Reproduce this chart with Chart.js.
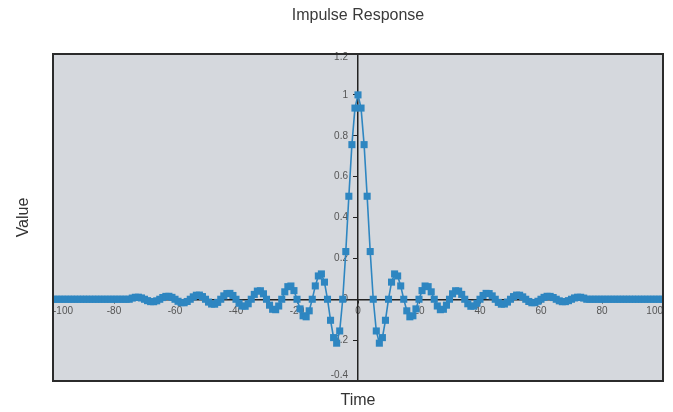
<!DOCTYPE html>
<html><head><meta charset="utf-8">
<script src="https://cdn.jsdelivr.net/npm/chart.js@4/dist/chart.umd.min.js"></script>
<style>html,body{margin:0;padding:0;background:#fff}#wrap{width:673px;height:412px;position:relative}</style>
</head><body><div id="wrap"><canvas id="c" width="673" height="412"></canvas></div>
<script>
const chartTitle = 'Impulse Response';
const xAxisTitle = 'Time';
const yAxisTitle = 'Value';

const times = [
-100,-99,-98,-97,-96,-95,-94,-93,-92,-91,-90,-89,-88,-87,-86,-85,-84,-83,-82,-81,
-80,-79,-78,-77,-76,-75,-74,-73,-72,-71,-70,-69,-68,-67,-66,-65,-64,-63,-62,-61,
-60,-59,-58,-57,-56,-55,-54,-53,-52,-51,-50,-49,-48,-47,-46,-45,-44,-43,-42,-41,
-40,-39,-38,-37,-36,-35,-34,-33,-32,-31,-30,-29,-28,-27,-26,-25,-24,-23,-22,-21,
-20,-19,-18,-17,-16,-15,-14,-13,-12,-11,-10,-9,-8,-7,-6,-5,-4,-3,-2,-1,
0,
1,2,3,4,5,6,7,8,9,10,11,12,13,14,15,16,17,18,19,20,
21,22,23,24,25,26,27,28,29,30,31,32,33,34,35,36,37,38,39,40,
41,42,43,44,45,46,47,48,49,50,51,52,53,54,55,56,57,58,59,60,
61,62,63,64,65,66,67,68,69,70,71,72,73,74,75,76,77,78,79,80,
81,82,83,84,85,86,87,88,89,90,91,92,93,94,95,96,97,98,99,100
];

const values = [
0,0,0,0,0,0,0,0,0,0,0,0,0,0,0,0,0,0,0,0,
0,0,0,0,0,0,0.0057,0.0096,0.0100,0.0064,0,-0.0069,-0.0116,-0.0120,-0.0077,0,0.0083,0.0139,0.0144,0.0092,
0,-0.0099,-0.0165,-0.0171,-0.0109,0,0.0117,0.0196,0.0203,0.0130,0,-0.0139,-0.0233,-0.0241,-0.0154,0,0.0165,0.0277,0.0287,0.0184,
0,-0.0197,-0.0331,-0.0343,-0.0220,0,0.0237,0.0399,0.0415,0.0267,0,-0.0290,-0.0490,-0.0511,-0.0330,0,0.0363,0.0616,0.0648,0.0422,
0,-0.0471,-0.0808,-0.0859,-0.0566,0,0.0652,0.1140,0.1239,0.0838,0,-0.1029,-0.1877,-0.2149,-0.1552,0,0.2334,0.5040,0.7565,0.9354,
1,
0.9354,0.7565,0.5040,0.2334,0,-0.1552,-0.2149,-0.1877,-0.1029,0,0.0838,0.1239,0.1140,0.0652,0,-0.0566,-0.0859,-0.0808,-0.0471,0,
0.0422,0.0648,0.0616,0.0363,0,-0.0330,-0.0511,-0.0490,-0.0290,0,0.0267,0.0415,0.0399,0.0237,0,-0.0220,-0.0343,-0.0331,-0.0197,0,
0.0184,0.0287,0.0277,0.0165,0,-0.0154,-0.0241,-0.0233,-0.0139,0,0.0130,0.0203,0.0196,0.0117,0,-0.0109,-0.0171,-0.0165,-0.0099,0,
0.0092,0.0144,0.0139,0.0083,0,-0.0077,-0.0120,-0.0116,-0.0069,0,0.0064,0.0100,0.0096,0.0057,0,0,0,0,0,0,
0,0,0,0,0,0,0,0,0,0,0,0,0,0,0,0,0,0,0,0
];

const xTickValues = [-100,-80,-60,-40,-20,0,20,40,60,80,100];
const yTickValues = [-0.4,-0.2,0,0.2,0.4,0.6,0.8,1,1.2];

const FONT = "'Liberation Sans', Arial, Helvetica, sans-serif";

const framePlugin = {
  id: 'frame',
  beforeDraw(chart) {
    const {ctx, chartArea: a} = chart;
    ctx.save();
    ctx.fillStyle = '#d5d8dd';
    ctx.fillRect(a.left, a.top, a.right - a.left, a.bottom - a.top);
    ctx.restore();
    // keep the end labels of the vertical axis inside the plot frame
    const ys = chart.scales.y;
    const items = ys.getLabelItems(a);
    if (items && items.length) {
      items.forEach(it => {
        const t = it.options.translation;
        if (t[1] <= a.top + 1) t[1] += 3;
        else if (t[1] >= a.bottom - 1) t[1] -= 6;
      });
    }
  },
  afterDraw(chart) {
    const {ctx, chartArea: a} = chart;
    ctx.save();
    ctx.strokeStyle = '#2b2b2b';
    ctx.lineWidth = 2;
    ctx.strokeRect(a.left, a.top, a.right - a.left, a.bottom - a.top);
    ctx.fillStyle = '#333';
    ctx.font = '16px ' + FONT;
    ctx.textAlign = 'center';
    ctx.textBaseline = 'middle';
    ctx.fillText(xAxisTitle, (a.left + a.right) / 2, 401);
    ctx.translate(24, (a.top + a.bottom) / 2);
    ctx.rotate(-Math.PI / 2);
    ctx.fillText(yAxisTitle, 0, 0);
    ctx.restore();
  }
};

new Chart(document.getElementById('c'), {
  type: 'line',
  data: {
    datasets: [{
      data: times.map((t, i) => ({x: t, y: values[i]})),
      borderColor: '#2e86c1',
      backgroundColor: '#2e86c1',
      borderWidth: 1.6,
      pointStyle: 'rect',
      pointRadius: 5,
      pointBorderWidth: 0,
      pointBackgroundColor: '#2e86c1',
      tension: 0,
      clip: 0
    }]
  },
  options: {
    responsive: false,
    animation: false,
    devicePixelRatio: 1,
    layout: {padding: {left: 53, right: 10, top: 0, bottom: 31}},
    plugins: {
      legend: {display: false},
      tooltip: {enabled: false},
      title: {
        display: true,
        text: chartTitle,
        color: '#3a3a3a',
        font: {size: 16, weight: 'normal', family: FONT},
        padding: {top: 5.5, bottom: 29.3}
      }
    },
    scales: {
      x: {
        type: 'linear',
        min: -100, max: 100,
        position: {y: 0},
        afterBuildTicks: s => { s.ticks = xTickValues.map(v => ({value: v})); },
        ticks: {
          align: 'inner', autoSkip: false, maxRotation: 0,
          color: '#555', padding: 3,
          font: {size: 10, family: FONT},
          callback: v => String(v)
        },
        grid: {drawOnChartArea: false, drawTicks: true, tickLength: 3, color: '#222'},
        border: {display: true, color: '#222', width: 1.5}
      },
      y: {
        type: 'linear',
        min: -0.4, max: 1.2,
        position: 'center',
        afterBuildTicks: s => { s.ticks = yTickValues.map(v => ({value: v})); },
        ticks: {
          autoSkip: false, color: '#555', padding: 6,
          font: {size: 10, family: FONT},
          callback: v => String(parseFloat(Number(v).toFixed(2)))
        },
        grid: {drawOnChartArea: false, drawTicks: true, tickLength: 4, color: '#222'},
        border: {display: true, color: '#222', width: 1.5}
      }
    }
  },
  plugins: [framePlugin]
});
</script>
</body></html>
